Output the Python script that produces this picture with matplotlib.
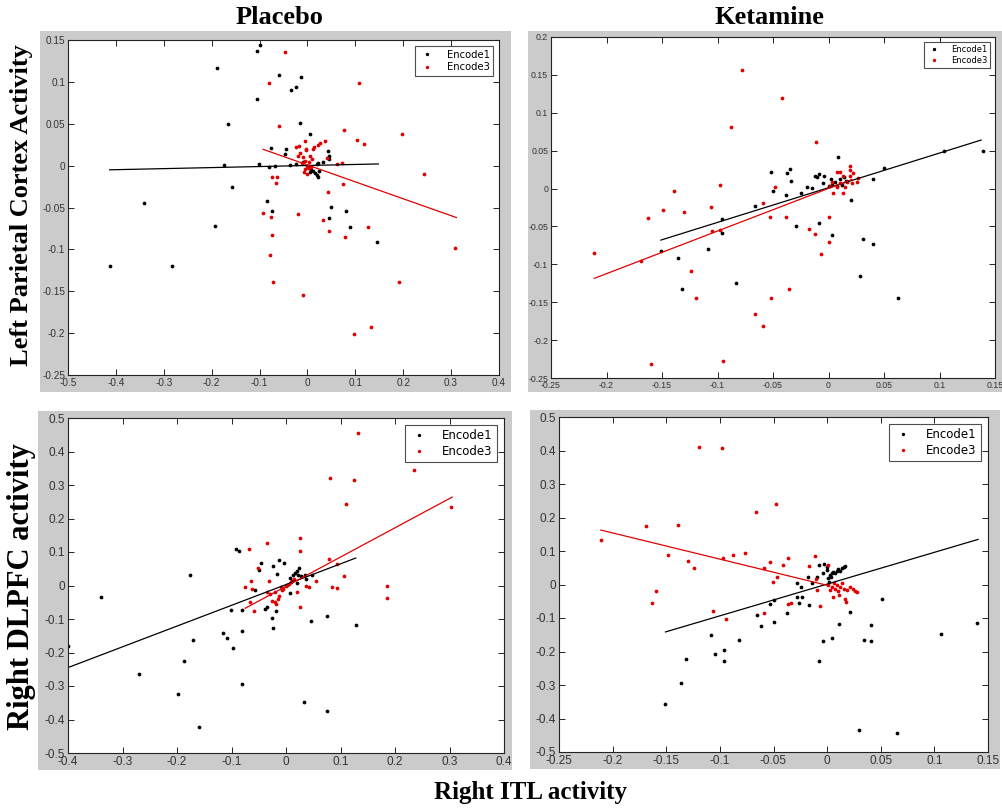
import matplotlib
matplotlib.use('Agg')
import matplotlib.pyplot as plt
import numpy as np
from matplotlib.patches import Rectangle

W, H = 1002, 808

# ---- data (x = Right ITL activity, y = regional activity) ----
# Placebo / Left parietal
pl_lp_enc1 = np.array([
    (-0.0995, 0.144), (-0.106, 0.137), (-0.188, 0.117), (-0.059, 0.108), (-0.0125, 0.106),
    (-0.024, 0.094), (-0.034, 0.090), (-0.106, 0.080), (-0.166, 0.050), (-0.016, 0.051),
    (0.005, 0.038), (-0.077, 0.021), (-0.045, 0.0195), (-0.047, 0.014), (-0.174, 0.001),
    (-0.101, 0.0024), (-0.080, -0.002), (-0.068, -0.001), (0.043, 0.018), (0.045, 0.0115),
    (0.045, 0.0076), (0.033, 0.004), (0.021, 0.003), (-0.158, -0.026), (-0.341, -0.045),
    (-0.0835, -0.042), (-0.074, -0.054), (0.050, -0.049), (0.081, -0.054), (0.045, -0.062),
    (-0.193, -0.072), (0.088, -0.073), (0.146, -0.091), (-0.413, -0.120), (-0.282, -0.120),
    (0.008, -0.005), (0.012, -0.007), (0.015, -0.009), (0.019, -0.011), (0.022, -0.013),
    (0.003, -0.001), (0.024, -0.007), (0.006, -0.008), (-0.037, 0.001), (-0.023, 0.002),
    (-0.009, 0.004), (0.019, 0.0016)])
pl_lp_enc3 = np.array([
    (-0.047, 0.136), (-0.080, 0.099), (0.108, 0.099), (-0.059, 0.047), (0.077, 0.043),
    (0.198, 0.038), (0.104, 0.031), (0.118, 0.026), (0.037, 0.029), (0.027, 0.027),
    (-0.0056, 0.029), (-0.017, 0.0235), (0.012, 0.0195), (-0.002, 0.019), (0.040, 0.009),
    (0.062, 0.002), (0.072, 0.003), (0.244, -0.010), (-0.074, -0.014), (-0.064, -0.013),
    (-0.066, -0.021), (0.075, -0.022), (0.042, -0.032), (-0.0925, -0.057), (-0.019, -0.058),
    (-0.077, -0.061), (0.033, -0.065), (0.045, -0.078), (0.127, -0.073), (-0.074, -0.083),
    (0.079, -0.085), (0.309, -0.098), (-0.079, -0.107), (-0.072, -0.139), (0.191, -0.139),
    (-0.009, -0.155), (0.132, -0.193), (0.098, -0.201),
    (-0.01, 0.01), (-0.005, 0.005), (0.0, 0.0), (0.002, -0.003), (-0.008, -0.008),
    (0.005, 0.012), (-0.015, 0.015), (0.008, -0.002), (-0.003, 0.02), (0.01, 0.008),
    (-0.02, 0.012), (0.0, -0.01), (-0.012, 0.003), (0.004, 0.004), (-0.006, -0.004),
    (0.014, 0.022), (0.022, 0.025), (-0.024, 0.022)])

# Ketamine / Left parietal
ke_lp_enc1 = np.array([
    (0.139, 0.049), (0.104, 0.049), (0.050, 0.027), (0.040, 0.013), (0.009, 0.041),
    (-0.052, 0.022), (-0.035, 0.026), (-0.037, 0.020), (-0.034, 0.010), (-0.009, 0.019),
    (-0.0126, 0.016), (-0.0105, 0.015), (-0.004, 0.017), (-0.019, 0.0026), (-0.015, 0.0013),
    (-0.025, -0.006), (-0.050, -0.003), (-0.038, -0.009), (-0.066, -0.023), (-0.096, -0.040),
    (-0.096, -0.058), (-0.029, -0.049), (-0.009, -0.045), (0.003, -0.061), (0.020, -0.015),
    (0.0315, -0.067), (0.040, -0.073), (-0.151, -0.082), (-0.136, -0.091), (-0.109, -0.080),
    (-0.132, -0.132), (-0.083, -0.125), (0.0285, -0.116), (0.0625, -0.145),
    (0.003, 0.005), (0.006, 0.008), (0.010, 0.012), (0.014, 0.015), (0.016, 0.010),
    (0.002, 0.012), (0.0, 0.003), (-0.005, 0.007), (0.008, 0.003), (0.012, 0.005)])
ke_lp_enc3 = np.array([
    (-0.078, 0.157), (-0.042, 0.120), (-0.088, 0.081), (-0.011, 0.061), (-0.098, 0.0044),
    (-0.139, -0.0026), (-0.048, 0.0026), (-0.149, -0.028), (-0.130, -0.031), (-0.106, -0.024),
    (-0.059, -0.019), (-0.163, -0.039), (-0.053, -0.038), (-0.038, -0.038), (0.0, -0.038),
    (-0.0175, -0.054), (-0.012, -0.060), (-0.105, -0.056), (-0.098, -0.055), (0.0, -0.070),
    (-0.007, -0.087), (-0.211, -0.085), (-0.169, -0.096), (-0.124, -0.109), (-0.036, -0.132),
    (-0.119, -0.144), (-0.052, -0.145), (-0.066, -0.165), (-0.059, -0.182), (-0.095, -0.227),
    (-0.160, -0.232),
    (0.0195, 0.030), (0.019, 0.025), (0.0105, 0.0225), (0.0075, 0.022), (0.0135, 0.016),
    (0.0195, 0.016), (0.0255, 0.009), (0.027, 0.014), (0.021, 0.007), (0.0135, -0.006),
    (0.0045, -0.006), (0.0075, 0.002), (0.0015, 0.003), (0.0165, 0.009), (0.003, 0.009),
    (0.0225, 0.020), (0.015, 0.0026), (0.0105, 0.007)])

# Placebo / Right DLPFC
pl_dl_enc1 = np.array([
    (-0.4, -0.182), (-0.340, -0.035), (-0.176, 0.032), (-0.091, 0.108), (-0.086, 0.104),
    (-0.0465, 0.067), (-0.012, 0.077), (-0.004, 0.067), (-0.0245, 0.059), (-0.0496, 0.047),
    (-0.017, 0.035), (0.0245, 0.052), (0.020, 0.042), (0.013, 0.032), (0.0073, 0.022),
    (0.027, 0.027), (0.035, 0.032), (0.047, 0.032), (0.037, 0.019), (0.020, 0.007),
    (0.0073, -0.021), (-0.056, -0.014), (-0.101, -0.073), (-0.081, -0.074), (-0.038, -0.071),
    (-0.034, -0.063), (-0.018, -0.075), (-0.026, -0.0975), (-0.0245, -0.127), (-0.081, -0.137),
    (-0.116, -0.142), (-0.109, -0.157), (-0.097, -0.187), (-0.170, -0.164), (-0.187, -0.225),
    (0.045, -0.107), (0.075, -0.091), (0.128, -0.117), (-0.269, -0.264), (-0.199, -0.324),
    (-0.080, -0.293), (0.033, -0.347), (0.076, -0.374), (-0.160, -0.421),
    (0.0165, 0.037), (0.0226, 0.032), (0.0104, 0.012), (0.001, 0.002)])
pl_dl_enc3 = np.array([
    (0.1316, 0.455), (0.235, 0.345), (0.080, 0.322), (0.124, 0.315), (0.110, 0.243),
    (0.302, 0.234), (0.0257, 0.141), (-0.034, 0.126), (-0.068, 0.108), (0.0257, 0.104),
    (-0.051, 0.052), (0.078, 0.079), (0.093, 0.064), (0.106, 0.027), (0.055, 0.012),
    (0.185, 0.0), (0.084, -0.003), (0.094, -0.006), (0.185, -0.038), (0.037, 0.0),
    (0.043, -0.003), (-0.032, 0.014), (-0.064, 0.014), (-0.075, -0.003), (-0.062, -0.011),
    (-0.066, -0.048), (-0.059, -0.076), (0.0257, -0.064),
    (-0.01, -0.005), (-0.02, -0.02), (-0.015, -0.04), (-0.025, -0.045), (-0.005, -0.01),
    (0.0, 0.0), (-0.03, -0.025), (-0.012, -0.03), (0.005, 0.005), (-0.02, -0.05),
    (-0.018, -0.055), (0.01, 0.01), (-0.035, -0.02), (0.015, 0.02), (0.02, -0.02),
    (-0.008, -0.012)])

# Ketamine / Right DLPFC
ke_dl_enc1 = np.array([
    (0.1395, -0.115), (0.106, -0.147), (0.051, -0.042), (0.041, -0.121), (0.034, -0.165),
    (0.041, -0.170), (0.0215, -0.082), (0.011, -0.118), (0.005, -0.160), (-0.0034, -0.1675),
    (-0.008, -0.229), (0.030, -0.434), (0.065, -0.443), (-0.1507, -0.358), (-0.136, -0.293),
    (-0.132, -0.223), (-0.1086, -0.1495), (-0.1046, -0.206), (-0.096, -0.196), (-0.0965, -0.229),
    (-0.082, -0.1665), (-0.0657, -0.092), (-0.0616, -0.124), (-0.050, -0.112), (-0.053, -0.057),
    (-0.0498, -0.047), (-0.0377, -0.085), (-0.026, -0.056), (-0.0237, -0.037), (-0.0283, -0.037),
    (-0.0165, -0.062), (-0.0283, 0.003), (-0.0246, -0.007), (-0.0174, 0.021), (-0.0143, 0.005),
    (-0.0097, 0.023), (-0.0072, 0.058), (-0.0025, 0.061), (0.0003, 0.053), (-0.0034, 0.033),
    (0.0012, 0.018), (0.0028, 0.028), (0.0044, 0.033), (0.0059, 0.038), (0.0075, 0.033),
    (0.009, 0.041), (0.0106, 0.045), (0.012, 0.041), (0.0137, 0.048), (0.0153, 0.051),
    (0.0168, 0.055), (0.0019, 0.008), (0.0037, 0.023), (0.0, 0.043)])
ke_dl_enc3 = np.array([
    (-0.1195, 0.409), (-0.0978, 0.406), (-0.0476, 0.239), (-0.066, 0.215), (-0.169, 0.1745),
    (-0.139, 0.1775), (-0.211, 0.134), (-0.148, 0.087), (-0.130, 0.070), (-0.124, 0.049),
    (-0.0974, 0.078), (-0.088, 0.087), (-0.077, 0.095), (-0.053, 0.066), (-0.041, 0.058),
    (-0.0367, 0.078), (-0.0585, 0.048), (-0.047, 0.023), (-0.0507, 0.008), (-0.0165, 0.055),
    (-0.011, 0.084), (0.0006, 0.059), (-0.160, -0.019), (-0.1637, -0.054), (-0.106, -0.080),
    (-0.0946, -0.104), (-0.059, -0.084), (-0.0367, -0.059), (-0.034, -0.054), (-0.0065, -0.064),
    (-0.0097, -0.015), (-0.010, 0.016), (0.0053, -0.037), (0.011, -0.030), (0.0168, -0.044),
    (0.0177, -0.052),
    (0.0012, -0.002), (0.0044, -0.007), (0.0075, -0.012), (0.009, -0.002), (0.012, -0.007),
    (0.0153, -0.012), (0.0184, -0.017), (0.0215, -0.007), (0.0237, -0.012), (0.026, -0.019),
    (0.0277, -0.022), (0.006, 0.005), (0.0137, 0.003), (0.0028, -0.017), (0.0106, -0.019)])

# least-squares lines as drawn (end points)
pl_lp_fit1 = ([-0.413, 0.148], [-0.005, 0.002])
pl_lp_fit3 = ([-0.0925, 0.311], [0.0195, -0.062])
ke_lp_fit1 = ([-0.151, 0.1375], [-0.068, 0.064])
ke_lp_fit3 = ([-0.211, 0.021], [-0.1185, 0.012])
pl_dl_fit1 = ([-0.4, 0.128], [-0.245, 0.082])
pl_dl_fit3 = ([-0.075, 0.305], [-0.068, 0.264])
ke_dl_fit1 = ([-0.1507, 0.1407], [-0.1416, 0.1346])
ke_dl_fit3 = ([-0.211, 0.002], [0.1625, -0.004])

# axis ticks
xt_pl = [-0.5, -0.4, -0.3, -0.2, -0.1, 0, 0.1, 0.2, 0.3, 0.4]
yt_lp_pl = [-0.25, -0.2, -0.15, -0.1, -0.05, 0, 0.05, 0.1, 0.15]
xt_ke = [-0.25, -0.2, -0.15, -0.1, -0.05, 0, 0.05, 0.1, 0.15]
yt_lp_ke = [-0.25, -0.2, -0.15, -0.1, -0.05, 0, 0.05, 0.1, 0.15, 0.2]
xt_pl_dl = [-0.4, -0.3, -0.2, -0.1, 0, 0.1, 0.2, 0.3, 0.4]
yt_dl = [-0.5, -0.4, -0.3, -0.2, -0.1, 0, 0.1, 0.2, 0.3, 0.4, 0.5]

labels = ['Encode1', 'Encode3']

# ---- figure ----
fig = plt.figure(figsize=(W / 100, H / 100), dpi=100)
fig.patch.set_facecolor('white')

gray = '#cbcbcb'
serif = ['Liberation Serif', 'DejaVu Serif']

# panel gray backgrounds (pixel boxes: x0, y0, x1, y1 from top-left)
for x0, y0, x1, y1 in [(40, 31, 511, 392), (528, 31, 1002, 392),
                       (38, 411, 512, 770), (530, 410, 1000, 769)]:
    fig.add_artist(Rectangle((x0 / W, 1 - y1 / H), (x1 - x0) / W, (y1 - y0) / H,
                             transform=fig.transFigure, facecolor=gray,
                             edgecolor='none', zorder=0))


def panel(box, e1, e3, f1, f3, xt, yt, fs, legfs):
    l, t, r, b = box
    ax = fig.add_axes([l / W, 1 - b / H, (r - l) / W, (b - t) / H])
    ax.set_facecolor('white')
    ax.plot(e1[:, 0], e1[:, 1], 'o', color='black', ms=2.7, mew=0, label=labels[0])
    ax.plot(e3[:, 0], e3[:, 1], 'o', color='#e00000', ms=2.7, mew=0, label=labels[1])
    ax.plot(f1[0], f1[1], color='black', lw=0.9)
    ax.plot(f3[0], f3[1], color='#e00000', lw=0.9)
    ax.set_xlim(xt[0], xt[-1])
    ax.set_ylim(yt[0], yt[-1])
    ax.set_xticks(xt)
    ax.set_yticks(yt)
    ax.set_xticklabels(['%g' % v for v in xt])
    ax.set_yticklabels(['%g' % v for v in yt])
    ax.tick_params(direction='in', length=4, width=0.6, top=True, right=True,
                   labelsize=fs, labelcolor='#333333', pad=2,
                   labelfontfamily='Liberation Sans')
    for s in ax.spines.values():
        s.set_linewidth(0.8)
        s.set_color('#222222')
    leg = ax.legend(loc='upper right', fontsize=legfs, frameon=True, fancybox=False,
                    edgecolor='#222222', borderaxespad=0.6, handlelength=1.6,
                    handletextpad=1.2, borderpad=0.35, labelspacing=0.25,
                    markerscale=0.9)
    leg.get_frame().set_linewidth(0.8)
    return ax


panel((68, 40, 499, 375), pl_lp_enc1, pl_lp_enc3, pl_lp_fit1, pl_lp_fit3,
      xt_pl, yt_lp_pl, 7.2, 7.2)
panel((551, 37, 995, 378), ke_lp_enc1, ke_lp_enc3, ke_lp_fit1, ke_lp_fit3,
      xt_ke, yt_lp_ke, 6.3, 6.0)
panel((68, 418, 504, 753), pl_dl_enc1, pl_dl_enc3, pl_dl_fit1, pl_dl_fit3,
      xt_pl_dl, yt_dl, 8.5, 8.5)
panel((559, 417, 988, 752), ke_dl_enc1, ke_dl_enc3, ke_dl_fit1, ke_dl_fit3,
      xt_ke, yt_dl, 8.5, 8.5)

# titles / labels
fig.text(279 / W, 1 - 18 / H, 'Placebo', ha='center', va='center',
         fontsize=19, fontweight='bold', family=serif)
fig.text(769 / W, 1 - 18 / H, 'Ketamine', ha='center', va='center',
         fontsize=19, fontweight='bold', family=serif)
fig.text(22 / W, 1 - 205 / H, 'Left Parietal Cortex Activity', ha='center', va='center',
         rotation=90, fontsize=19, fontweight='bold', family=serif)
fig.text(22 / W, 1 - 587 / H, 'Right DLPFC activity', ha='center', va='center',
         rotation=90, fontsize=22, fontweight='bold', family=serif)
fig.text(531 / W, 1 - 792 / H, 'Right ITL activity', ha='center', va='center',
         fontsize=18, fontweight='bold', family=serif)

plt.savefig('out.png', dpi=100, facecolor='white')
